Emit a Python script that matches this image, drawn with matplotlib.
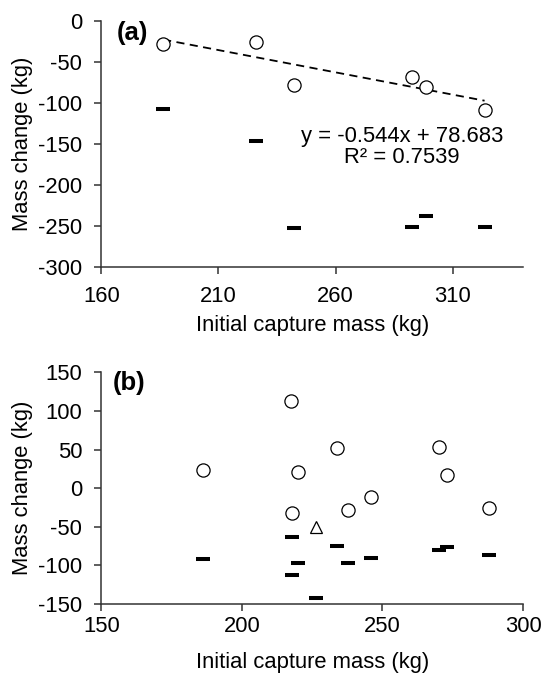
import matplotlib
matplotlib.use("Agg")
import matplotlib.pyplot as plt
import numpy as np

plt.rcParams["font.family"] = ["Liberation Sans", "DejaVu Sans"]
plt.rcParams["axes.unicode_minus"] = False

# panel (a)
a_x = [186.4, 226.1, 242.4, 292.7, 298.7, 323.6]
a_circle = [-28.4, -25.1, -77.8, -68.9, -80.3, -108.2]
a_dash = [-107.5, -146.4, -252.6, -251.4, -238.0, -251.4]
a_slope, a_intercept, a_r2 = -0.544, 78.683, 0.7539

# panel (b)
b_circle_x = [186.0, 217.4, 217.9, 220.1, 233.7, 237.9, 245.8, 270.2, 273.1, 287.8]
b_circle = [23.1, 113.0, -31.7, 21.4, 52.2, -27.8, -11.1, 52.7, 17.6, -25.7]
b_tri_x = [226.3]
b_tri = [-50.5]
b_dash_x = [186.0, 217.7, 217.7, 220.1, 226.5, 233.7, 237.9, 245.8, 270.2, 273.1, 287.8]
b_dash = [-92.0, -62.9, -113.0, -96.3, -141.7, -74.5, -97.2, -90.3, -80.1, -75.8, -86.0]

FS = 15.8
AXCOL = "#333333"
FIG_W, FIG_H = 544, 676


def style(ax, xlim, xticks, ylim, yticks, xpad):
    ax.set_xlim(*xlim)
    ax.set_ylim(*ylim)
    ax.set_xticks(xticks)
    ax.set_yticks(yticks)
    for s in ("top", "right"):
        ax.spines[s].set_visible(False)
    for s in ("left", "bottom"):
        ax.spines[s].set_color(AXCOL)
        ax.spines[s].set_linewidth(1.1)
    ax.tick_params(direction="out", length=4.8, width=1.1, color=AXCOL,
                   labelsize=FS)
    ax.tick_params(axis="x", pad=xpad)
    ax.tick_params(axis="y", pad=9)
    # label positions in axes fraction (measured in pixels from the axes)
    h = ax.get_position().height * FIG_H
    w = ax.get_position().width * FIG_W
    ax.set_xlabel("Initial capture mass (kg)", fontsize=FS)
    ax.xaxis.set_label_coords(0.5, -48 / h)
    ax.set_ylabel("Mass change (kg)", fontsize=FS)
    ax.yaxis.set_label_coords(-68 / w, 0.5)


fig = plt.figure(figsize=(FIG_W / 100, FIG_H / 100), dpi=100)
ax1 = fig.add_axes([0.1862, 0.6055, 0.7752, 0.3635])
ax2 = fig.add_axes([0.1862, 0.1065, 0.7752, 0.3428])

circ = dict(marker="o", linestyle="none", markersize=9.5, markerfacecolor="white",
            markeredgecolor="black", markeredgewidth=0.9)
dash = dict(marker="_", linestyle="none", markersize=9.5, markeredgewidth=2.9,
            color="black")

# (a)
xs = np.array([min(a_x), max(a_x)])
ax1.plot(xs, a_slope * xs + a_intercept, linestyle=(0, (4.5, 3)), color="black", lw=1.3)
ax1.plot(a_x, a_circle, **circ)
ax1.plot(a_x, a_dash, **dash)
ax1.text(288.4, -154, f"y = {a_slope}x + {a_intercept}\nR² = {a_r2}", fontsize=FS,
         ha="center", va="center", linespacing=1.0)
ax1.text(166.4, -15, "(a)", fontsize=18.5, fontweight="bold", ha="left", va="center")
style(ax1, (160, 340), [160, 210, 260, 310], (-300, 0), range(-300, 1, 50), xpad=9)

# (b)
ax2.plot(b_circle_x, b_circle, **circ)
ax2.plot(b_tri_x, b_tri, marker="^", linestyle="none", markersize=8.5,
         markerfacecolor="white", markeredgecolor="black", markeredgewidth=0.9)
ax2.plot(b_dash_x, b_dash, **dash)
ax2.text(154.2, 136, "(b)", fontsize=18.5, fontweight="bold", ha="left", va="center")
style(ax2, (150, 300), [150, 200, 250, 300], (-150, 150), range(-150, 151, 50), xpad=4)

fig.savefig("out.png", dpi=100)
